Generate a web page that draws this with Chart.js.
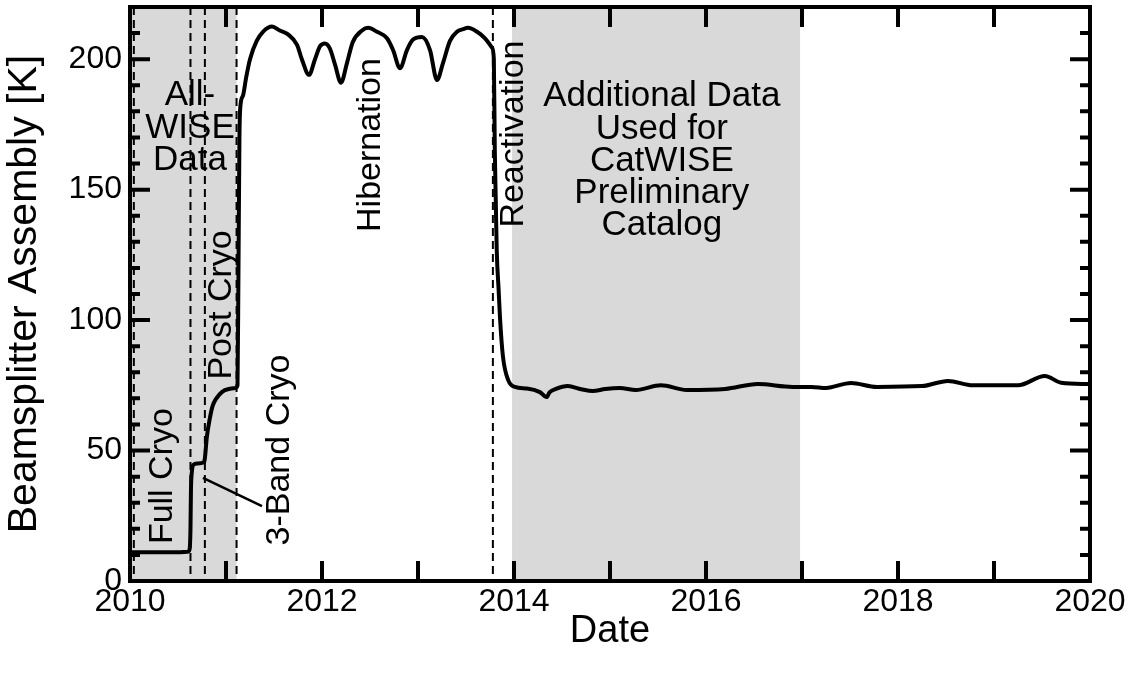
<!DOCTYPE html>
<html>
<head>
<meta charset="utf-8">
<script src="https://cdn.jsdelivr.net/npm/chart.js@4/dist/chart.umd.min.js"></script>
<style>
html,body{margin:0;padding:0;background:#fff;}
#wrap{width:1142px;height:680px;}
</style>
</head>
<body>
<div id="wrap"><canvas id="c" width="1142" height="680"></canvas></div>
<script>
// ---- data (decimal years, Kelvin) ----
const years = [2010.0,2010.1,2010.3,2010.5,2010.6,2010.62,2010.63,2010.635,2010.645,2010.66,2010.7,2010.77,2010.78,
  2010.8,2010.83,2010.86,2010.9,2010.96,2011.02,2011.1,2011.12,2011.13,2011.14,2011.15,2011.177,2011.21,2011.25,
  2011.32,2011.385,2011.48,2011.56,2011.646,2011.74,2011.79,2011.865,2011.927,2011.98,2012.03,2012.083,2012.135,
  2012.198,2012.26,2012.32,2012.417,2012.48,2012.573,2012.677,2012.74,2012.8125,2012.885,2012.948,2013.042,2013.125,
  2013.198,2013.26,2013.333,2013.406,2013.469,2013.52,2013.615,2013.698,2013.77,2013.79,2013.80,2013.81,2013.82,
  2013.84,2013.854,2013.885,2013.94,2014.01,2014.135,2014.27,2014.34,2014.37,2014.43,2014.56,2014.7,2014.82,2014.95,
  2015.1,2015.27,2015.53,2015.8,2016.2,2016.54,2016.9,2017.1,2017.25,2017.51,2017.78,2018.25,2018.52,2018.78,2019.25,
  2019.53,2019.7,2019.99];
const temps = [11,11,11,11,11.2,12,20,35,42,44.5,45,45.5,47,
  55,62,67,70,72.5,73.5,74,75,120,170,182,186,193,200,
  207,210.5,212.5,211,209.5,205.5,200,194,200,205,206,204,198,
  191,198.5,206.5,211,212,210.5,208,203.5,196.5,203.5,207.5,208.5,203.5,
  192,198.5,207,210.5,211.5,212,210.5,208,204.5,200,165,146,127,
  111.5,101,86,77,74.4,73.8,72.4,70.5,72.3,73.5,74.7,73.5,72.8,73.6,
  74,73.2,75,73.2,73.6,75.5,74.4,74.4,74,75.9,74.4,74.7,76.7,75,75,
  78.6,76,75.5];

// shaded periods and phase boundaries (decimal years)
const shadeStart = [2010.0, 2013.98];
const shadeEnd   = [2011.11, 2016.98];
const phaseLines = [2010.04, 2010.63, 2010.78, 2011.11, 2013.78];

// annotation texts
const hLabels = [
  {lines:['All-','WISE','Data'], x:2010.625, y:[186.3,173.6,161.4]},
  {lines:['Additional Data','Used for','CatWISE','Preliminary','Catalog'], x:2015.54, y:[185.9,173.2,161.0,148.7,136.4]}
];
const vLabels = [
  {text:'Full Cryo', x:2010.344, y:40.2},
  {text:'Post Cryo', x:2010.958, y:105.8},
  {text:'3-Band Cryo', x:2011.5625, y:50.2},
  {text:'Hibernation', x:2012.51, y:167.1},
  {text:'Reactivation', x:2014.0, y:171.3}
];
const leader = {x:[2010.76, 2011.375], y:[39.5, 28.7]};

const FONT = "'Liberation Sans', Arial, Helvetica, sans-serif";
Chart.defaults.color = '#000';
Chart.defaults.font.family = FONT;

const deco = {
  id: 'deco',
  beforeDatasetsDraw(chart) {
    const {ctx, chartArea: a, scales: {x, y}} = chart;
    ctx.save();
    ctx.fillStyle = '#d9d9d9';
    shadeStart.forEach((s, i) => {
      const x0 = x.getPixelForValue(s), x1 = x.getPixelForValue(shadeEnd[i]);
      ctx.fillRect(x0, a.top, x1 - x0, a.bottom - a.top);
    });
    ctx.strokeStyle = '#000';
    ctx.lineWidth = 2;
    ctx.setLineDash([8, 5]);
    phaseLines.forEach(v => {
      const px = x.getPixelForValue(v);
      ctx.beginPath(); ctx.moveTo(px, a.top); ctx.lineTo(px, a.bottom); ctx.stroke();
    });
    ctx.restore();
  },
  afterDatasetsDraw(chart) {
    const {ctx, chartArea: a, scales: {x, y}} = chart;
    ctx.save();
    ctx.strokeStyle = '#000';
    ctx.lineWidth = 4;
    ctx.beginPath();
    x.ticks.forEach(t => {
      const px = x.getPixelForValue(t.value);
      ctx.moveTo(px, a.bottom); ctx.lineTo(px, a.bottom - 20);
      ctx.moveTo(px, a.top); ctx.lineTo(px, a.top + 20);
    });
    y.ticks.forEach(t => {
      const py = y.getPixelForValue(t.value);
      const len = (t.value % 50 === 0) ? 20 : 10;
      ctx.moveTo(a.left, py); ctx.lineTo(a.left + len, py);
      ctx.moveTo(a.right, py); ctx.lineTo(a.right - len, py);
    });
    ctx.stroke();
    ctx.strokeRect(a.left, a.top, a.right - a.left, a.bottom - a.top);
    ctx.lineWidth = 2.5;
    ctx.beginPath();
    ctx.moveTo(x.getPixelForValue(leader.x[0]), y.getPixelForValue(leader.y[0]));
    ctx.lineTo(x.getPixelForValue(leader.x[1]), y.getPixelForValue(leader.y[1]));
    ctx.stroke();
    ctx.fillStyle = '#000';
    ctx.textAlign = 'center';
    ctx.textBaseline = 'middle';
    ctx.font = '35px ' + FONT;
    hLabels.forEach(l => {
      l.lines.forEach((s, i) => ctx.fillText(s, x.getPixelForValue(l.x), y.getPixelForValue(l.y[i])));
    });
    ctx.font = '34px ' + FONT;
    vLabels.forEach(l => {
      ctx.save();
      ctx.translate(x.getPixelForValue(l.x), y.getPixelForValue(l.y));
      ctx.rotate(-Math.PI / 2);
      ctx.fillText(l.text, 0, 0);
      ctx.restore();
    });
    ctx.restore();
  }
};

new Chart(document.getElementById('c'), {
  type: 'line',
  data: {
    datasets: [{
      data: years.map((v, i) => ({x: v, y: temps[i]})),
      borderColor: '#000',
      borderWidth: 4,
      pointRadius: 0,
      fill: false,
      cubicInterpolationMode: 'monotone'
    }]
  },
  options: {
    responsive: false,
    animation: false,
    events: [],
    layout: {padding: {top: 7, right: 52, left: 0, bottom: 0}},
    plugins: {legend: {display: false}, tooltip: {enabled: false}},
    scales: {
      x: {
        type: 'linear', min: 2010, max: 2020,
        grid: {display: false, drawTicks: false},
        border: {display: false},
        ticks: {
          stepSize: 1, maxRotation: 0, autoSkip: false, padding: 2,
          font: {size: 32, family: FONT},
          callback: v => (v % 2 === 0 ? String(v) : '')
        },
        title: {display: true, text: 'Date', font: {size: 38, family: FONT}, padding: {top: 0, bottom: 26}},
        afterFit: s => { s.height = 99; s.paddingLeft = 0; s.paddingRight = 0; }
      },
      y: {
        type: 'linear', min: 0, max: 220,
        grid: {display: false, drawTicks: false},
        border: {display: false},
        ticks: {
          stepSize: 10, autoSkip: false, padding: 8,
          font: {size: 32, family: FONT},
          callback: v => (v % 50 === 0 ? String(v) : '')
        },
        title: {display: true, text: 'Beamsplitter Assembly [K]', font: {size: 41, family: FONT}, padding: {top: 0, bottom: 0}},
        afterFit: s => { s.width = 130; s.paddingTop = 0; s.paddingBottom = 0; }
      }
    }
  },
  plugins: [deco]
});
</script>
</body>
</html>
